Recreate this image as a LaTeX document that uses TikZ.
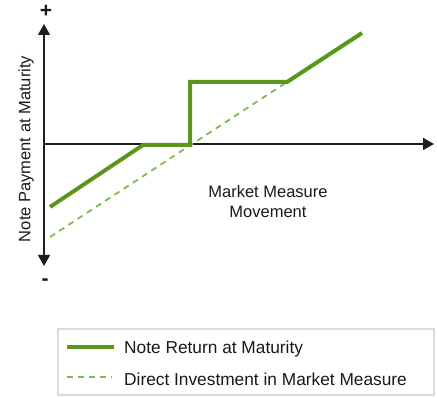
\documentclass[tikz,border=0pt]{standalone}
\usepackage{fontspec}
\setmainfont{Liberation Sans}
\usetikzlibrary{arrows.meta}
\definecolor{notegreen}{RGB}{88,150,28}
\definecolor{dashgreen}{RGB}{128,186,78}
\definecolor{axisgray}{RGB}{30,30,30}
\definecolor{boxgray}{RGB}{220,220,215}
\begin{document}
\begin{tikzpicture}[x=1pt,y=-1pt,
  axisline/.style={draw=axisgray,line width=1.3pt,-{Triangle[length=11pt,width=12pt]}},
  noteline/.style={draw=notegreen,line width=4pt,line join=miter},
  directline/.style={draw=dashgreen,line width=1.8pt,dash pattern=on 6pt off 5pt},
  lbl/.style={inner sep=0pt,text=black!90,font=\fontsize{16.5}{20}\selectfont},
  sign/.style={inner sep=0pt,text=black!90,font=\fontsize{21}{24}\selectfont\bfseries},
  legtext/.style={inner sep=0pt,anchor=west,text=black!90,font=\fontsize{17.3}{20}\selectfont}]
\useasboundingbox (0,0) rectangle (437,398);
% axes
\coordinate (o) at (44,144);
\coordinate (ytop) at (44,24);
\coordinate (ybot) at (44,266);
\coordinate (xend) at (434,144);
\draw[axisline] (o) -- (ytop);
\draw[axisline] (o) -- (ybot);
\draw[axisline] (o) -- (xend);
\node[sign] (plus) at (46,11) {+};
\node[sign] (minus) at (45,282) {-};
\node[lbl,rotate=90] (ylab) at (26,149) {Note Payment at Maturity};
\node[lbl,align=center] (xlab) at (268,202) {Market Measure\\Movement};
% lines
\coordinate (d0) at (50,237);
\coordinate (d1) at (287,82);
\draw[directline] (d0) -- (d1);
\coordinate (n0) at (50,207);
\coordinate (n1) at (143,145);
\coordinate (n2) at (190,145);
\coordinate (n3) at (190,82);
\coordinate (n4) at (287,82);
\coordinate (n5) at (362,33);
\draw[noteline] (n0) -- (n1) -- (n2) -- (n3) -- (n4) -- (n5);
% legend
\draw[draw=boxgray,line width=1.3pt,fill=white] (58,329) rectangle (434,395);
\coordinate (l1a) at (67,347);
\coordinate (l1b) at (114,347);
\coordinate (l2a) at (67,377);
\coordinate (l2b) at (112,377);
\draw[noteline] (l1a) -- (l1b);
\draw[directline] (l2a) -- (l2b);
\node[legtext] (leg1) at (124,349) {Note Return at Maturity};
\node[legtext] (leg2) at (124,379) {Direct Investment in Market Measure};
\end{tikzpicture}
\end{document}
